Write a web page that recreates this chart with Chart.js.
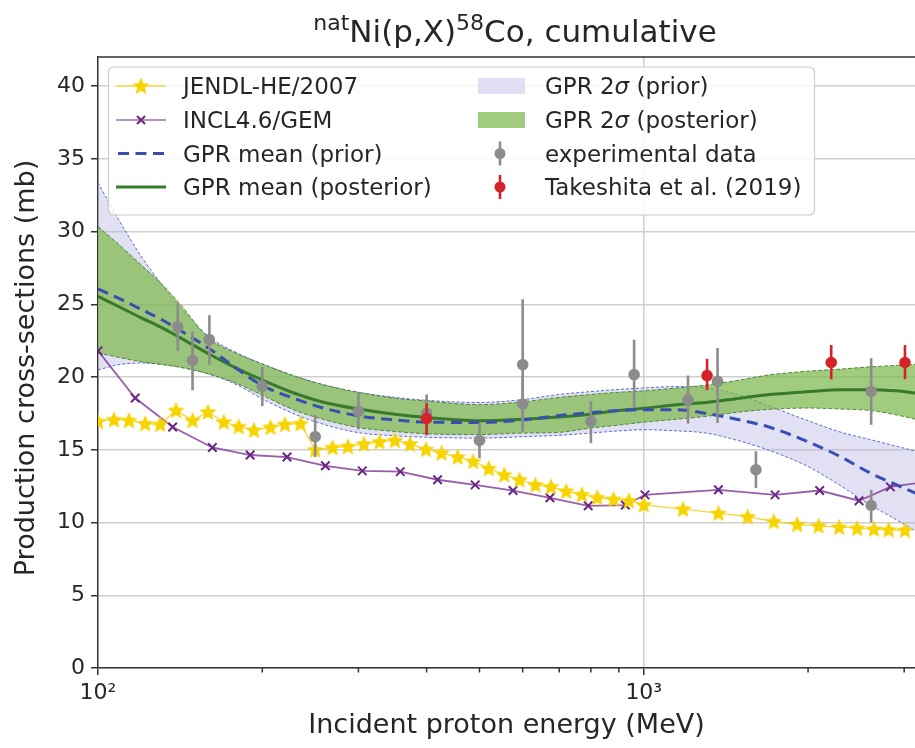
<!DOCTYPE html>
<html>
<head>
<meta charset="utf-8">
<script src="https://cdn.jsdelivr.net/npm/chart.js@4.4.0/dist/chart.umd.min.js"></script>
<style>
  html, body { margin: 0; padding: 0; background: #fff; }
</style>
</head>
<body>
<canvas id="chart" width="915" height="748"></canvas>
<script>
// energies (MeV) and cross-sections (mb)
const gridE = [100, 110, 120, 130, 140, 160, 180, 200, 230, 260, 300, 350, 400, 500, 600, 700, 800, 900, 1000, 1150, 1300, 1500, 1700, 2000, 2300, 2600, 2900, 3150];
const priorMean  = [26.06, 25.35, 24.65, 24.0, 23.3, 21.95, 20.55, 19.42, 18.5, 17.85, 17.33, 17.05, 16.9, 16.88, 17.05, 17.35, 17.55, 17.7, 17.76, 17.76, 17.5, 17.05, 16.55, 15.55, 14.5, 13.4, 12.6, 12.02];
const priorUpper = [33.36, 30.6, 28.3, 26.5, 24.95, 22.75, 21.65, 20.9, 20.05, 19.45, 18.95, 18.6, 18.4, 18.25, 18.45, 18.8, 19.0, 19.15, 19.25, 19.35, 19.25, 18.75, 18.0, 17.0, 16.2, 15.7, 15.25, 14.9];
const priorLower = [20.5, 20.87, 20.96, 20.9, 20.72, 20.2, 19.45, 18.5, 17.43, 16.73, 16.18, 15.96, 15.86, 15.8, 15.9, 16.0, 16.15, 16.3, 16.38, 16.3, 16.15, 15.6, 14.95, 13.85, 12.5, 11.2, 10.2, 9.4];
const postMean   = [25.55, 24.78, 24.07, 23.45, 22.8, 21.57, 20.58, 19.8, 18.87, 18.25, 17.8, 17.44, 17.22, 17.0, 17.1, 17.25, 17.45, 17.7, 17.85, 18.1, 18.25, 18.55, 18.8, 19.0, 19.13, 19.13, 19.05, 18.9];
const postUpper  = [30.35, 29.0, 27.7, 26.5, 25.2, 22.65, 21.6, 20.9, 20.05, 19.45, 18.95, 18.55, 18.35, 18.1, 18.3, 18.6, 18.8, 18.95, 19.05, 19.25, 19.45, 19.8, 20.15, 20.4, 20.55, 20.7, 20.8, 20.87];
const postLower  = [21.65, 21.33, 21.06, 20.87, 20.7, 20.2, 19.55, 18.75, 17.7, 17.07, 16.53, 16.26, 16.1, 16.05, 16.15, 16.2, 16.5, 16.7, 16.9, 17.1, 17.3, 17.6, 17.78, 17.87, 17.8, 17.7, 17.4, 17.1];

const jendlE = [100, 107, 114, 122, 130, 139, 149, 159, 170, 181, 193, 207, 220, 235, 250, 269, 287, 307, 328, 350, 373, 399, 426, 456, 487, 520, 555, 592, 633, 676, 721, 770, 822, 880, 939, 1000, 1180, 1370, 1550, 1730, 1910, 2090, 2280, 2460, 2640, 2810, 3010];
const jendlY = [16.95, 17.07, 17.02, 16.8, 16.75, 17.71, 17.02, 17.6, 16.91, 16.6, 16.35, 16.55, 16.75, 16.8, 15.0, 15.16, 15.23, 15.4, 15.55, 15.65, 15.4, 15.03, 14.78, 14.5, 14.2, 13.72, 13.28, 12.94, 12.59, 12.46, 12.15, 11.92, 11.72, 11.6, 11.5, 11.22, 10.92, 10.64, 10.4, 10.07, 9.87, 9.77, 9.68, 9.61, 9.55, 9.5, 9.47];

const inclE = [100, 117, 137, 162, 190, 222, 261, 305, 358, 419, 491, 576, 673, 791, 925, 1005, 1370, 1740, 2100, 2480, 2830, 3300];
const inclY = [21.8, 18.56, 16.57, 15.16, 14.64, 14.5, 13.9, 13.55, 13.5, 12.94, 12.59, 12.2, 11.7, 11.15, 11.2, 11.9, 12.25, 11.9, 12.2, 11.5, 12.45, 12.8];

const expE  = [140, 149, 160, 200, 250, 300, 400, 500, 600, 600, 800, 960, 1205, 1365, 1605, 2610, 2610];
const expY  = [23.45, 21.15, 22.57, 19.36, 15.9, 17.64, 17.5, 15.64, 20.85, 18.15, 16.95, 20.17, 18.44, 19.7, 13.63, 19.02, 11.17];
const expLo = [21.8, 19.1, 20.85, 18.0, 14.5, 16.4, 16.2, 14.43, 16.3, 16.25, 15.46, 17.87, 16.8, 16.84, 12.37, 16.72, 10.0];
const expHi = [25.1, 23.15, 24.25, 20.7, 17.4, 18.9, 18.8, 16.84, 25.35, 20.05, 18.33, 22.57, 20.1, 22.0, 14.9, 21.3, 12.25];

const takE  = [400, 1306, 2205, 3010];
const takY  = [17.15, 20.1, 21.0, 21.0];
const takLo = [16.0, 19.1, 19.85, 19.85];
const takHi = [18.2, 21.25, 22.2, 22.2];

const xTicks = [100, 200, 300, 400, 500, 600, 700, 800, 900, 1000, 2000, 3000];
const xLabels = { 100: '10\u00b2', 1000: '10\u00b3' };
const yTicks = [0, 5, 10, 15, 20, 25, 30, 35, 40];

const FONT = "'DejaVu Sans', sans-serif";
Chart.defaults.font.family = FONT;
Chart.defaults.color = '#262626';

const C = {
  jendlLine: 'rgba(240,212,40,0.9)',
  jendl: 'rgb(246,212,0)',
  incl: 'rgba(125,55,150,0.8)',
  inclMark: 'rgb(105,38,130)',
  priorMean: 'rgb(58,78,178)',
  postMean: 'rgb(55,122,45)',
  priorFill: 'rgba(180,180,225,0.4)',
  priorEdge: 'rgba(75,95,205,0.9)',
  postFill: 'rgba(125,185,75,0.72)',
  postEdge: 'rgba(70,125,50,0.9)',
  exp: 'rgb(140,140,140)',
  tak: 'rgb(212,35,40)'
};

function starCanvas(r, color) {
  const c = document.createElement('canvas');
  const s = Math.ceil(r * 2 + 2);
  c.width = s; c.height = s;
  const g = c.getContext('2d');
  g.fillStyle = color;
  g.beginPath();
  for (let i = 0; i < 10; i++) {
    const rad = i % 2 ? r * 0.45 : r;
    const a = -Math.PI / 2 + i * Math.PI / 5;
    const px = s / 2 + rad * Math.cos(a), py = s / 2 + 0.6 + rad * Math.sin(a);
    if (i) g.lineTo(px, py); else g.moveTo(px, py);
  }
  g.closePath();
  g.fill();
  return c;
}
const star = starCanvas(9, C.jendl);

const xy = (xs, ys) => xs.map((x, i) => ({ x, y: ys[i] }));

const band = (ys, color, dash, fill, fillColor, order) => ({
  data: xy(gridE, ys), borderColor: color, borderWidth: 1, borderDash: dash,
  pointRadius: 0, cubicInterpolationMode: 'monotone',
  fill: fill, backgroundColor: fillColor || 'transparent', order
});

// error bars drawn under the markers of their dataset
const errorBars = {
  id: 'errorBars',
  beforeDatasetDraw(chart, args) {
    const ds = chart.data.datasets[args.index];
    if (!ds.errLo) return;
    const { x, y } = chart.scales;
    const g = chart.ctx;
    g.save();
    g.strokeStyle = ds.backgroundColor;
    g.lineWidth = 2.6;
    ds.data.forEach((p, i) => {
      const px = x.getPixelForValue(p.x);
      g.beginPath();
      g.moveTo(px, y.getPixelForValue(ds.errLo[i]));
      g.lineTo(px, y.getPixelForValue(ds.errHi[i]));
      g.stroke();
    });
    g.restore();
  }
};

function drawRich(g, parts, x, y, center) {
  const f = p => (p.it ? 'italic ' : '') + p.s + 'px ' + FONT;
  let w = 0;
  parts.forEach(p => { g.font = f(p); p.w = g.measureText(p.t).width; w += p.w; });
  let cx = center ? x - w / 2 : x;
  g.textAlign = 'left';
  g.textBaseline = 'alphabetic';
  parts.forEach(p => { g.font = f(p); g.fillText(p.t, cx, y + (p.dy || 0)); cx += p.w; });
}

// title, top spine, minor ticks and the two-column legend
const decor = {
  id: 'decor',
  afterDraw(chart) {
    const g = chart.ctx, a = chart.chartArea, x = chart.scales.x;
    g.save();
    g.strokeStyle = '#333';
    g.lineWidth = 1.5;
    g.beginPath();
    g.moveTo(a.left, a.top); g.lineTo(a.right, a.top);
    xTicks.filter(v => !xLabels[v]).forEach(v => {
      const px = x.getPixelForValue(v);
      g.moveTo(px, a.bottom); g.lineTo(px, a.bottom + 4.5);
    });
    g.stroke();

    g.fillStyle = '#262626';
    drawRich(g, [
      { t: 'nat', s: 22, dy: -12 }, { t: 'Ni(p,X)', s: 31 },
      { t: '58', s: 22, dy: -12 }, { t: 'Co, cumulative', s: 31 }
    ], 515, 42, true);

    // legend box
    g.fillStyle = 'rgba(255,255,255,0.85)';
    g.strokeStyle = '#cccccc';
    g.lineWidth = 1.2;
    g.beginPath();
    g.roundRect(108.5, 67, 706, 148, 5);
    g.fill(); g.stroke();

    const rows = [86, 120, 153.5, 187];
    const L1 = 116, L2 = 166, T1 = 183, T2 = 545, MX = 500;
    // JENDL
    g.strokeStyle = C.jendlLine; g.lineWidth = 1.3;
    g.beginPath(); g.moveTo(L1, rows[0]); g.lineTo(L2, rows[0]); g.stroke();
    g.drawImage(star, 141 - star.width / 2, rows[0] - star.height / 2);
    // INCL
    g.strokeStyle = 'rgba(125,55,150,0.55)'; g.lineWidth = 2;
    g.beginPath(); g.moveTo(L1, rows[1]); g.lineTo(L2, rows[1]); g.stroke();
    g.strokeStyle = C.inclMark; g.lineWidth = 2;
    g.beginPath();
    g.moveTo(137, rows[1] - 4); g.lineTo(145, rows[1] + 4);
    g.moveTo(137, rows[1] + 4); g.lineTo(145, rows[1] - 4);
    g.stroke();
    // prior mean
    g.strokeStyle = C.priorMean; g.lineWidth = 3; g.setLineDash([11, 6.5]);
    g.beginPath(); g.moveTo(L1 + 2, rows[2]); g.lineTo(L2, rows[2]); g.stroke();
    g.setLineDash([]);
    // posterior mean
    g.strokeStyle = C.postMean; g.lineWidth = 3;
    g.beginPath(); g.moveTo(L1, rows[3]); g.lineTo(L2, rows[3]); g.stroke();
    // bands
    g.fillStyle = C.priorFill; g.fillRect(478, rows[0] - 8, 47, 16);
    g.fillStyle = C.postFill; g.fillRect(478, rows[1] - 8, 47, 16);
    // data markers
    [[C.exp, rows[2]], [C.tak, rows[3]]].forEach(([col, ry]) => {
      g.strokeStyle = col; g.fillStyle = col; g.lineWidth = 2.6;
      g.beginPath(); g.moveTo(MX, ry - 12); g.lineTo(MX, ry + 12); g.stroke();
      g.beginPath(); g.arc(MX, ry, 5.5, 0, Math.PI * 2); g.fill();
    });

    g.fillStyle = '#262626';
    const s = 23, b = 8.3;
    drawRich(g, [{ t: 'JENDL-HE/2007', s }], T1, rows[0] + b);
    drawRich(g, [{ t: 'INCL4.6/GEM', s }], T1, rows[1] + b);
    drawRich(g, [{ t: 'GPR mean (prior)', s }], T1, rows[2] + b);
    drawRich(g, [{ t: 'GPR mean (posterior)', s }], T1, rows[3] + b);
    drawRich(g, [{ t: 'GPR 2', s }, { t: '\u03c3', s, it: true }, { t: ' (prior)', s }], T2, rows[0] + b);
    drawRich(g, [{ t: 'GPR 2', s }, { t: '\u03c3', s, it: true }, { t: ' (posterior)', s }], T2, rows[1] + b);
    drawRich(g, [{ t: 'experimental data', s }], T2, rows[2] + b);
    drawRich(g, [{ t: 'Takeshita et al. (2019)', s }], T2, rows[3] + b);

    // y axis label, centred on the measured span
    g.translate(27, 368);
    g.rotate(-Math.PI / 2);
    g.font = '27px ' + FONT;
    g.textAlign = 'center';
    g.textBaseline = 'middle';
    g.fillText('Production cross-sections (mb)', 0, 0);
    g.restore();
  }
};

const ctx = document.getElementById('chart');
const chart = new Chart(ctx, {
  type: 'line',
  data: {
    datasets: [
      { label: 'JENDL-HE/2007', data: xy(jendlE, jendlY), borderColor: C.jendlLine, borderWidth: 1.3,
        pointStyle: star, pointRadius: 8, backgroundColor: C.jendl, order: 3, clip: 0 },
      { label: 'INCL4.6/GEM', data: xy(inclE, inclY), borderColor: C.incl, borderWidth: 1.8,
        pointStyle: 'crossRot', pointRadius: 6, pointBorderColor: C.inclMark, pointBorderWidth: 2, order: 3, clip: 0 },
      { label: 'GPR mean (prior)', data: xy(gridE, priorMean), borderColor: C.priorMean, borderWidth: 3,
        borderDash: [11, 6.5], pointRadius: 0, cubicInterpolationMode: 'monotone', order: 2 },
      { label: 'GPR mean (posterior)', data: xy(gridE, postMean), borderColor: C.postMean, borderWidth: 3,
        pointRadius: 0, cubicInterpolationMode: 'monotone', order: 2 },
      band(priorUpper, C.priorEdge, [3, 2], '+1', C.priorFill, 8),
      band(priorLower, C.priorEdge, [3, 2], false, null, 7),
      band(postUpper, C.postEdge, [4, 2], '+1', C.postFill, 6),
      band(postLower, C.postEdge, [4, 2], false, null, 5),
      { label: 'experimental data', data: xy(expE, expY), errLo: expLo, errHi: expHi, showLine: false,
        pointRadius: 5.8, backgroundColor: C.exp, borderColor: C.exp, pointBorderWidth: 0, order: 1 },
      { label: 'Takeshita et al. (2019)', data: xy(takE, takY), errLo: takLo, errHi: takHi, showLine: false,
        pointRadius: 5.8, backgroundColor: C.tak, borderColor: C.tak, pointBorderWidth: 0, order: 0 }
    ]
  },
  options: {
    responsive: false,
    devicePixelRatio: 1,
    animation: false,
    events: [],
    layout: { autoPadding: false, padding: { top: 57, left: 0, right: 0, bottom: 0 } },
    plugins: {
      legend: { display: false },
      title: { display: false },
      tooltip: { enabled: false }
    },
    scales: {
      x: {
        type: 'logarithmic', min: 100, max: 3140,
        afterBuildTicks: s => { s.ticks = xTicks.map(v => ({ value: v, major: !!xLabels[v] })); },
        afterFit: s => { s.height = 80; },
        ticks: { autoSkip: false, maxRotation: 0, padding: 5, font: { size: 22 },
          callback: v => xLabels[v] || '' },
        grid: { color: c => (c.tick && c.tick.value === 1000) ? '#cfcfcf' : 'rgba(0,0,0,0)', lineWidth: 1.5,
          tickLength: 7, tickWidth: 1.5, tickColor: c => (c.tick && xLabels[c.tick.value]) ? '#333' : 'rgba(0,0,0,0)' },
        border: { color: '#333', width: 1.5 },
        title: { display: true, text: 'Incident proton energy (MeV)', font: { size: 27 }, padding: { top: 0, bottom: 6 } }
      },
      y: {
        min: 0, max: 42,
        afterBuildTicks: s => { s.ticks = yTicks.map(v => ({ value: v })); },
        afterFit: s => { s.width = 98; },
        ticks: { padding: 6, font: { size: 22 } },
        grid: { color: '#cfcfcf', lineWidth: 1.5, tickLength: 7, tickWidth: 1.5, tickColor: '#333' },
        border: { color: '#333', width: 1.5 },
        title: { display: false }
      }
    }
  },
  plugins: [errorBars, decor]
});
</script>
</body>
</html>
